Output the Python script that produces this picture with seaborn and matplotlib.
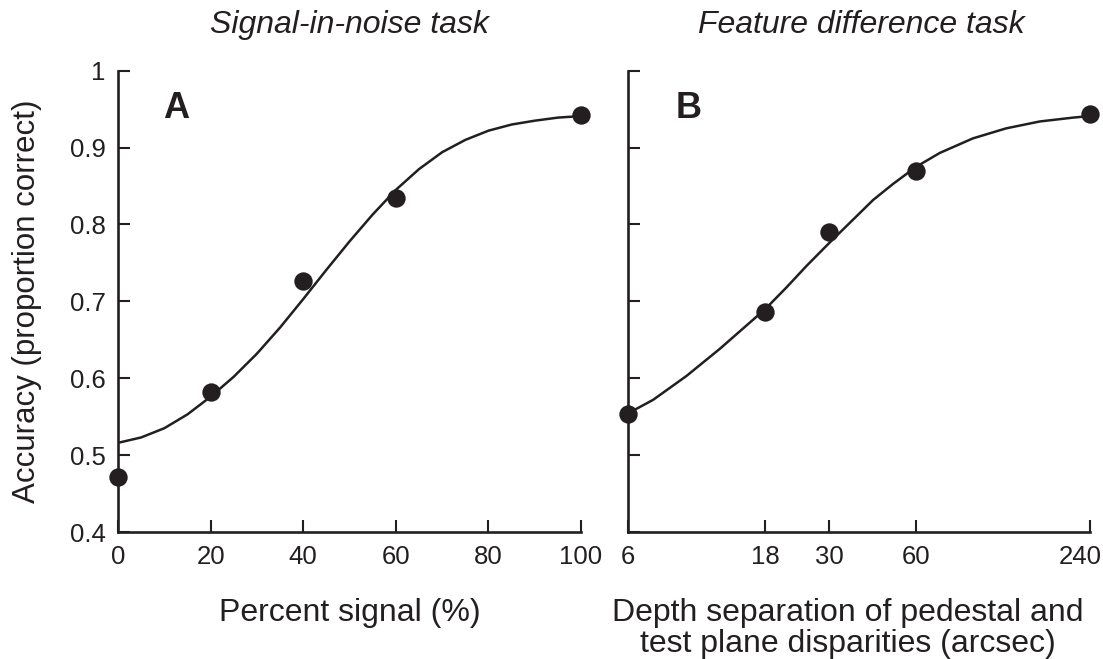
import matplotlib
matplotlib.use("Agg")
import matplotlib.pyplot as plt
import matplotlib.transforms as mtransforms
import seaborn as sns
import pandas as pd
from matplotlib.ticker import FixedLocator, FixedFormatter, NullLocator

# ---------------- data ----------------
# Panel A: signal-in-noise task
signal_pct = [0, 20, 40, 60, 100]
signal_acc = [0.471, 0.582, 0.727, 0.834, 0.943]
# fitted curve
signal_fit_x = [0, 5, 10, 15, 20, 25, 30, 35, 40, 45, 50, 55, 60, 65, 70, 75, 80, 85, 90, 95, 100]
signal_fit_y = [0.516, 0.523, 0.535, 0.553, 0.576, 0.602, 0.632, 0.666, 0.703, 0.741, 0.778,
                0.813, 0.845, 0.872, 0.894, 0.910, 0.922, 0.930, 0.935, 0.939, 0.941]

# Panel B: feature difference task
depth_sep = [6, 18, 30, 60, 240]
depth_acc = [0.553, 0.686, 0.790, 0.870, 0.944]
depth_fit_x = [6, 7.36, 9.6, 12.5, 15, 18, 21.3, 25, 30, 35.3, 42.6, 50, 60, 72.4, 94.4, 123, 161, 210, 240]
depth_fit_y = [0.554, 0.572, 0.603, 0.638, 0.664, 0.690, 0.718, 0.746, 0.776, 0.802, 0.832,
               0.853, 0.875, 0.893, 0.912, 0.925, 0.934, 0.939, 0.941]

y_ticks = [0.4, 0.5, 0.6, 0.7, 0.8, 0.9, 1.0]
y_tick_labels = ["0.4", "0.5", "0.6", "0.7", "0.8", "0.9", "1"]
x_ticks_a = [0, 20, 40, 60, 80, 100]
x_ticks_b = [6, 18, 30, 60, 240]

titles = ["Signal-in-noise task", "Feature difference task"]
xlabels = ["Percent signal (%)", "Depth separation of pedestal and\ntest plane disparities (arcsec)"]
ylabel = "Accuracy (proportion correct)"
panel_letters = ["A", "B"]

# ---------------- style ----------------
sns.set_theme(style="ticks")
plt.rcParams['font.family'] = ['Liberation Sans', 'DejaVu Sans']
INK = "#231f20"

fig = plt.figure(figsize=(11.03, 6.59), dpi=100)
axA = fig.add_axes([0.107, 0.1927, 0.4198, 0.700])
axB = fig.add_axes([0.569, 0.1927, 0.4191, 0.700])

dfA_pts = pd.DataFrame({"x": signal_pct, "y": signal_acc})
dfA_fit = pd.DataFrame({"x": signal_fit_x, "y": signal_fit_y})
dfB_pts = pd.DataFrame({"x": depth_sep, "y": depth_acc})
dfB_fit = pd.DataFrame({"x": depth_fit_x, "y": depth_fit_y})

for ax, pts, fit in [(axA, dfA_pts, dfA_fit), (axB, dfB_pts, dfB_fit)]:
    sns.lineplot(data=fit, x="x", y="y", ax=ax, color=INK, linewidth=1.8,
                 estimator=None, sort=True)
    sns.scatterplot(data=pts, x="x", y="y", ax=ax, color=INK, s=175,
                    linewidth=0, clip_on=False, zorder=5)

# Panel A axes
axA.set_xlim(0, 100)
axA.set_ylim(0.4, 1.0)
axA.set_xticks(x_ticks_a)
axA.set_xticklabels([str(t) for t in x_ticks_a])
axA.set_yticks(y_ticks)
axA.set_yticklabels(y_tick_labels)

# Panel B axes (log)
axB.set_xscale("log")
axB.set_xlim(6, 240)
axB.set_ylim(0.4, 1.0)
axB.xaxis.set_major_locator(FixedLocator(x_ticks_b))
axB.xaxis.set_major_formatter(FixedFormatter([str(t) for t in x_ticks_b]))
axB.xaxis.set_minor_locator(NullLocator())
axB.set_yticks(y_ticks)
axB.set_yticklabels([])

for i, ax in enumerate([axA, axB]):
    sns.despine(ax=ax)
    for s in ["left", "bottom"]:
        ax.spines[s].set_linewidth(1.9)
        ax.spines[s].set_color(INK)
    ax.tick_params(axis="both", direction="in", length=8.4, width=1.5,
                   color=INK, labelcolor=INK, labelsize=18.5, pad=9)
    ax.set_xlabel(xlabels[i], fontsize=23, color=INK, linespacing=1.05)
    ax.set_ylabel("")
    ax.text(0.5 if i == 0 else 0.505, 1.10, titles[i], transform=ax.transAxes,
            ha="center", va="center", fontsize=23, style="italic", color=INK)
    ax.text(0.125 if i == 0 else 0.132, 0.918, panel_letters[i], transform=ax.transAxes,
            ha="center", va="center", fontsize=26, fontweight="bold", color=INK)
    ax.set_facecolor("white")

axA.xaxis.set_label_coords(0.5, -0.143)
axB.xaxis.set_label_coords(0.4765, -0.143)
axA.set_ylabel(ylabel, fontsize=22.5, color=INK)
axA.yaxis.set_label_coords(-0.164, 0.5)

# nudge the last tick label of panel B left so it stays inside the figure
last = axB.get_xticklabels()[-1]
last.set_transform(last.get_transform() +
                   mtransforms.ScaledTranslation(-0.10, 0, fig.dpi_scale_trans))

fig.savefig("out.png", dpi=100, facecolor="white")
